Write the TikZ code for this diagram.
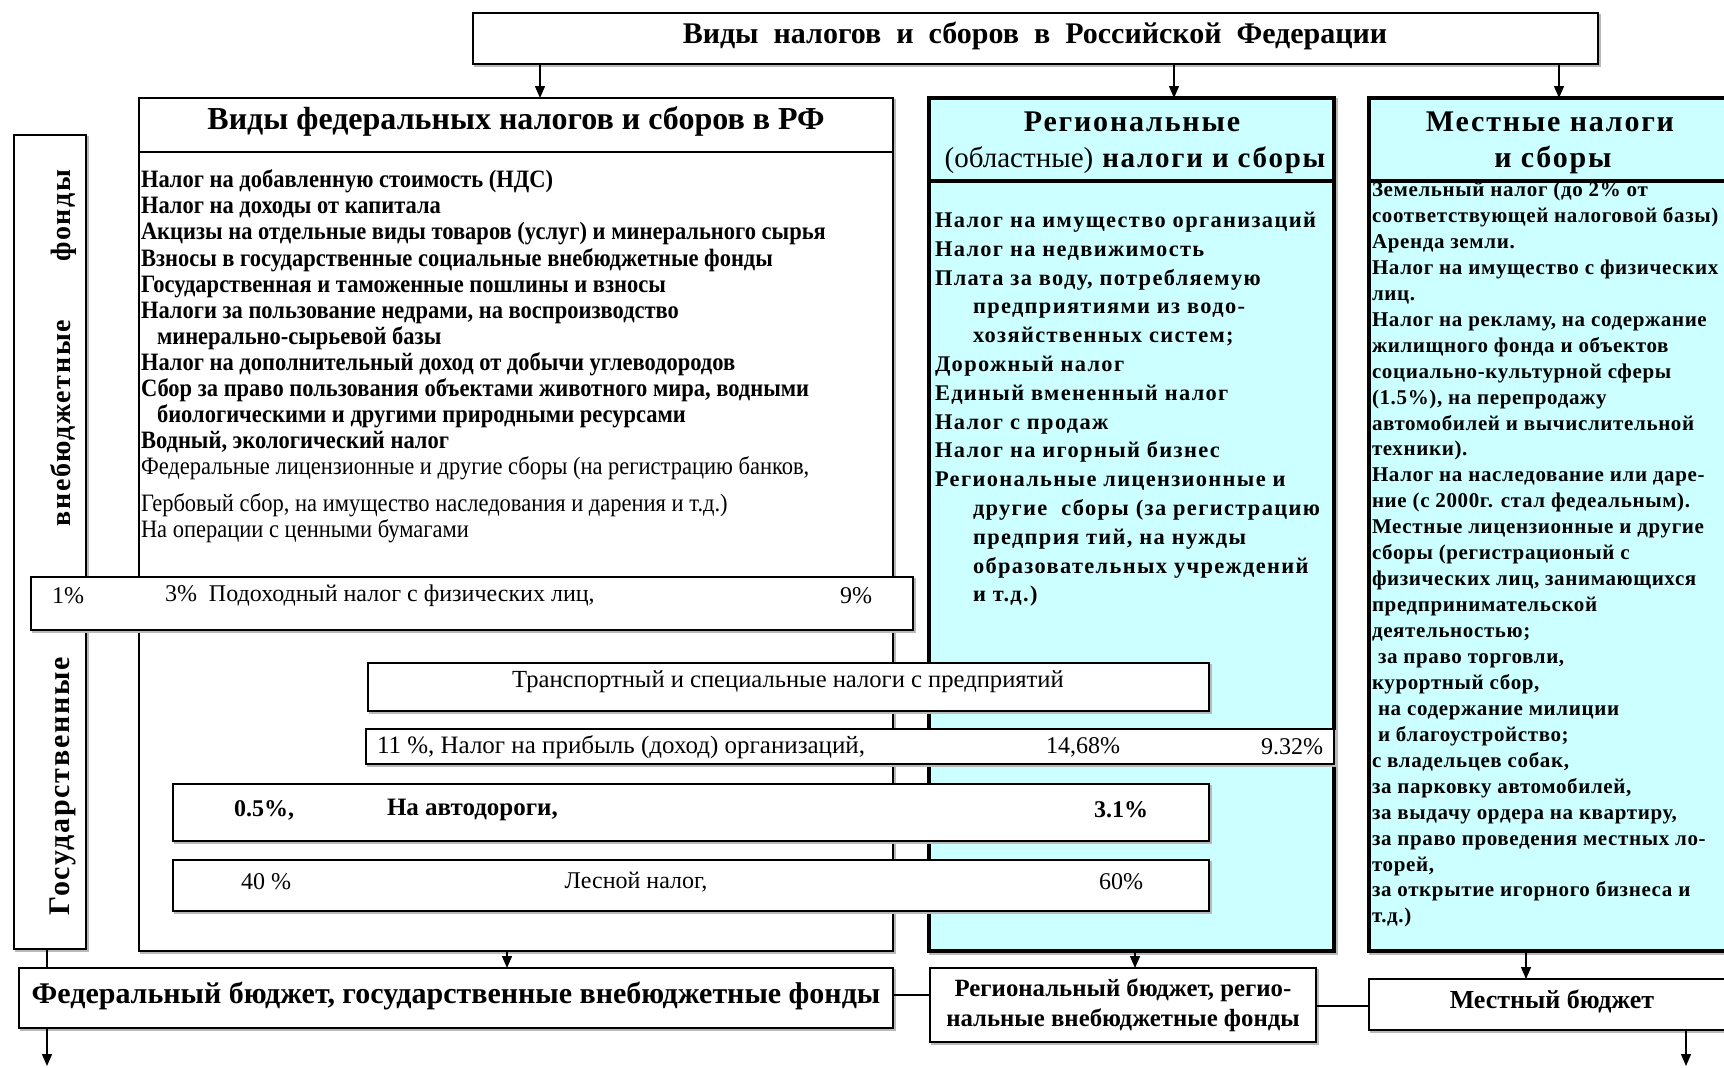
\documentclass[tikz,border=0pt]{standalone}
\usepackage{fontspec}
\setmainfont{Liberation Serif}
\newfontfamily\spaced[LetterSpace=6]{Liberation Serif}
\newfontfamily\lspaced[LetterSpace=3]{Liberation Serif}
\newfontfamily\cond[FakeStretch=0.9]{Liberation Serif}
\usetikzlibrary{arrows.meta,shadows}
\definecolor{lcyan}{HTML}{CCFFFF}
\newcommand{\fsz}[2]{\fontsize{#1}{#2}\selectfont}
\begin{document}
\begin{tikzpicture}[x=0.5pt,y=-0.5pt,
  box/.style={draw, fill=white, inner sep=0pt, outer sep=0pt, anchor=north west, line width=0.6pt,
     copy shadow={shadow xshift=1pt, shadow yshift=-1pt, draw=gray!55, fill=gray!55}},
  cbox/.style={box, fill=lcyan, line width=1.6pt},
  txt/.style={inner sep=0pt, outer sep=0pt},
  arr/.style={-{Triangle[length=6pt,width=5pt]}, line width=0.7pt},
  con/.style={line width=0.6pt}]
\useasboundingbox (0,0) rectangle (1724,1067);
\clip (0,0) rectangle (1724,1067);
% big boxes
\node[box, line width=1.3pt, minimum width=562.5pt, minimum height=25.5pt] (top) at (473,13) {};
\node[box, minimum width=377pt, minimum height=426.5pt] (fed) at (139,98) {};
\node[cbox, minimum width=202.5pt, minimum height=426.5pt] (reg) at (929,98) {};
\node[cbox, minimum width=185pt, minimum height=426.5pt] (loc) at (1369,98) {};
\node[box, minimum width=36pt, minimum height=407pt] (left) at (14,135) {};
% header lines
\draw[line width=0.8pt] (fed.west |- 0,152) -- (fed.east |- 0,152);
\draw[line width=1.6pt] (reg.west |- 0,181) -- (reg.east |- 0,181);
\draw[line width=1.6pt] (loc.west |- 0,181) -- (loc.east |- 0,181);
% titles
\node[txt, font=\fsz{15}{17}\bfseries] (ttop) at (1035,36) {Виды\ \ налогов\ \ и\ \ сборов\ \ в\ \ Российской\ \ Федерации};
\node[txt, font=\fsz{16}{19}\bfseries] (tfed) at (516,121) {Виды федеральных налогов и сборов в РФ};
\node[txt, font=\spaced\fsz{15}{18}\bfseries] (treg1) at (1132,122) {Региональные};
\node[txt, font=\spaced\fsz{14.5}{18}\bfseries] (treg2) at (1135,160) {{\rmfamily\mdseries(областные)} налоги и сборы};
\node[txt, font=\spaced\fsz{15}{18}\bfseries] (tloc1) at (1550,122) {Местные налоги};
\node[txt, font=\spaced\fsz{15}{18}\bfseries] (tloc2) at (1553,160) {и сборы};
% federal list
\node[txt, anchor=north west, align=left, font=\cond\fsz{12.5}{13.02}\bfseries] (lfed) at (141,170) {%
Налог на добавленную стоимость (НДС)\\
Налог на доходы от капитала\\
Акцизы на отдельные виды товаров (услуг) и минерального сырья\\
Взносы в государственные социальные внебюджетные фонды\\
Государственная и таможенные пошлины и взносы\\
Налоги за пользование недрами, на воспроизводство\\
\hspace*{8pt}минерально-сырьевой базы\\
Налог на дополнительный доход от добычи углеводородов\\
Сбор за право пользования объектами животного мира, водными\\
\hspace*{8pt}биологическими и другими природными ресурсами\\
Водный, экологический налог\\
{\mdseries Федеральные лицензионные и другие сборы (на регистрацию банков,}\\[5.5pt]
{\mdseries Гербовый сбор, на имущество наследования и дарения и т.д.)}\\
{\mdseries На операции с ценными бумагами}};
% regional list
\node[txt, anchor=north west, align=left, font=\spaced\fsz{11.2}{14.4}\bfseries] (lreg) at (935,212) {%
Налог на имущество организаций\\
Налог на недвижимость\\
Плата за воду, потребляемую\\
\hspace*{19pt}предприятиями из водо-\\
\hspace*{19pt}хозяйственных систем;\\
Дорожный налог\\
Единый вмененный налог\\
Налог с продаж\\
Налог на игорный бизнес\\
Региональные лицензионные и\\
\hspace*{19pt}другие\ \ сборы (за регистрацию\\
\hspace*{19pt}предприя тий, на нужды\\
\hspace*{19pt}образовательных учреждений\\
\hspace*{19pt}и т.д.)};
% local list
\node[txt, anchor=north west, align=left, font=\lspaced\fsz{10.5}{12.97}\bfseries] (lloc) at (1372,182) {%
Земельный налог (до 2\% от\\
соответствующей налоговой базы)\\
Аренда земли.\\
Налог на имущество с физических\\
лиц.\\
Налог на рекламу, на содержание\\
жилищного фонда и объектов\\
социально-культурной сферы\\
(1.5\%), на перепродажу\\
автомобилей и вычислительной\\
техники).\\
Налог на наследование или даре-\\
ние (с 2000г. стал федеальным).\\
Местные лицензионные и другие\\
сборы (регистрационый с\\
физических лиц, занимающихся\\
предпринимательской\\
деятельностью;\\
\hspace*{3pt}за право торговли,\\
курортный сбор,\\
\hspace*{3pt}на содержание милиции\\
\hspace*{3pt}и благоустройство;\\
с владельцев собак,\\
за парковку автомобилей,\\
за выдачу ордера на квартиру,\\
за право проведения местных ло-\\
торей,\\
за открытие игорного бизнеса и\\
т.д.)};
% vertical text
\node[txt, rotate=90, font=\spaced\fsz{15}{18}\bfseries] (vgos) at (63,786) {Государственные};
\node[txt, rotate=90, font=\spaced\fsz{14}{18}\bfseries] (vfond) at (63,348) {внебюджетные\hspace{29pt}фонды};
% overlay strips
\node[box, minimum width=441pt, minimum height=26.5pt] (inc) at (31,577) {};
\node[txt, font=\fsz{12}{14}] (inc1) at (68,596) {1\%};
\node[txt, anchor=west, font=\fsz{12}{14}] (inc2) at (165,596) {3\%\ \ Подоходный налог с физических лиц,};
\node[txt, font=\fsz{12}{14}] (inc3) at (856,596) {9\%};
\node[box, minimum width=420.5pt, minimum height=24pt] (trn) at (368,663) {};
\node[txt, font=\fsz{12.3}{14}] (trn1) at (788,682) {Транспортный и специальные налоги с предприятий};
\node[box, minimum width=484pt, minimum height=17.5pt] (prf) at (366,729) {};
\node[txt, anchor=west, font=\fsz{12.5}{14}] (prf1) at (377,747) {11 \%, Налог на прибыль (доход) организаций,};
\node[txt, font=\fsz{12}{14}] (prf2) at (1083,747) {14,68\%};
\node[txt, font=\fsz{12}{14}] (prf3) at (1292,747) {9.32\%};
\node[box, minimum width=518pt, minimum height=28.5pt] (aut) at (173,784) {};
\node[txt, font=\fsz{12}{14}\bfseries] (aut1) at (264,810) {0.5\%,};
\node[txt, anchor=west, font=\fsz{12.5}{14}\bfseries] (aut2) at (387,810) {На автодороги,};
\node[txt, font=\fsz{12}{14}\bfseries] (aut3) at (1121,810) {3.1\%};
\node[box, minimum width=518pt, minimum height=25.5pt] (frs) at (173,860) {};
\node[txt, font=\fsz{12}{14}] (frs1) at (266,882) {40 \%};
\node[txt, font=\fsz{12}{14}] (frs2) at (636,882) {Лесной налог,};
\node[txt, font=\fsz{12}{14}] (frs3) at (1121,882) {60\%};
% budgets
\node[box, minimum width=437pt, minimum height=30pt] (fbud) at (19,968) {};
\node[txt, font=\fsz{15}{18}\bfseries] (fbudt) at (456,996) {Федеральный бюджет, государственные внебюджетные фонды};
\node[box, minimum width=193pt, minimum height=37pt] (rbud) at (930,968) {};
\node[txt, align=center, font=\fsz{12.4}{15}\bfseries] (rbudt) at (1123,1005) {Региональный бюджет, регио-\\нальные внебюджетные фонды};
\node[box, minimum width=185pt, minimum height=25.5pt] (lbud) at (1369,979) {};
\node[txt, font=\fsz{13}{15}\bfseries] (lbudt) at (1552,1001) {Местный бюджет};
% connector x/y positions
\coordinate (x1) at (540,0);
\coordinate (x2) at (1174,0);
\coordinate (x3) at (1559,0);
\coordinate (x4) at (507,0);
\coordinate (x5) at (1135,0);
\coordinate (x6) at (1526,0);
\coordinate (x7) at (47,0);
\coordinate (x8) at (1686,0);
\coordinate (y1) at (0,995);
\coordinate (y2) at (0,1006);
\coordinate (endf) at (47,1066);
\coordinate (endl) at (1686,1066);
\draw[arr] (top.south -| x1) -- (fed.north -| x1);
\draw[arr] (top.south -| x2) -- (reg.north -| x2);
\draw[arr] (top.south -| x3) -- (loc.north -| x3);
\draw[arr] (fed.south -| x4) -- (fbud.north -| x4);
\draw[arr] (reg.south -| x5) -- (rbud.north -| x5);
\draw[arr] (loc.south -| x6) -- (lbud.north -| x6);
\draw[con] (left.south -| x7) -- (fbud.north -| x7);
\draw[arr] (fbud.south -| x7) -- (endf);
\draw[arr] (lbud.south -| x8) -- (endl);
\draw[line width=1.2pt] (fbud.east |- y1) -- (rbud.west |- y1);
\draw[line width=1.2pt] (rbud.east |- y2) -- (lbud.west |- y2);
\end{tikzpicture}
\end{document}
